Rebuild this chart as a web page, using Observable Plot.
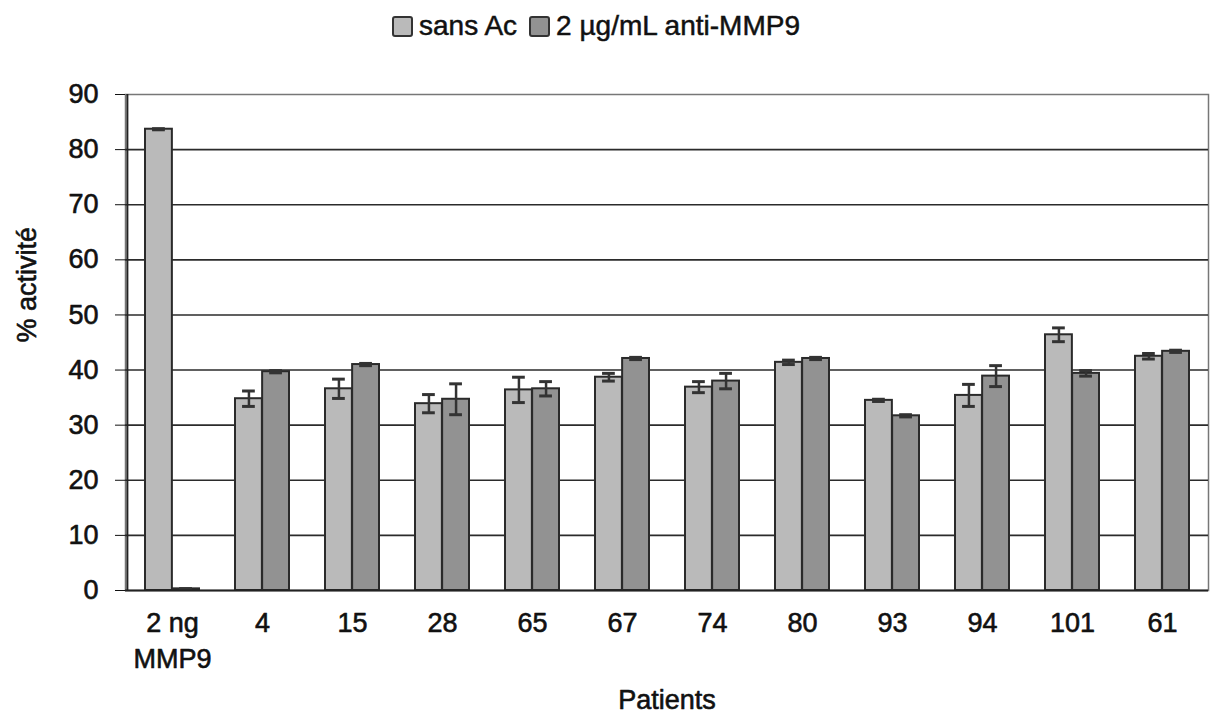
<!DOCTYPE html>
<html>
<head>
<meta charset="utf-8">
<script src="https://cdn.jsdelivr.net/npm/d3@7"></script>
<script src="https://cdn.jsdelivr.net/npm/@observablehq/plot@0.6"></script>
<style>
  body { margin: 0; background: #fff; font-family: "Liberation Sans", Arial, sans-serif; }
  #legend { height: 46px; box-sizing: border-box; padding-top: 6px; display: flex; justify-content: center; align-items: center; font-size: 28px; color: #111; -webkit-text-stroke: 0.5px #111; padding-right: 18px; }
  .item { display: flex; align-items: center; margin: 0 6px; }
  .sw { width: 17px; height: 17px; border: 2px solid #333; border-radius: 3px; margin-right: 6px; -webkit-text-stroke: 0; }
</style>
</head>
<body>
<div id="legend"></div>
<div id="chart"></div>
<script>
const patients = ["2 ng\nMMP9", "4", "15", "28", "65", "67", "74", "80", "93", "94", "101", "61"];
const seriesNames = ["sans Ac", "2 µg/mL anti-MMP9"];
const sansAc    = [83.7, 34.8, 36.6, 33.9, 36.4, 38.7, 36.9, 41.4, 34.5, 35.4, 46.4, 42.5];
const sansAcErr = [0.1, 1.4, 1.75, 1.65, 2.3, 0.7, 1.0, 0.4, 0.2, 2.0, 1.25, 0.5];
const antiMMP9    = [0.3, 39.7, 41.0, 34.7, 36.6, 42.1, 38.0, 42.1, 31.7, 38.9, 39.4, 43.4];
const antiMMP9Err = [0.0, 0.2, 0.2, 2.8, 1.3, 0.2, 1.4, 0.2, 0.2, 1.9, 0.5, 0.2];
const yTicks = [0, 10, 20, 30, 40, 50, 60, 70, 80, 90];
const gridTicks = [10, 20, 30, 40, 50, 60, 70, 80];
const xTitle = "Patients";
const yTitle = "% activité";
const colors = ["#bababa", "#929292"];

const rowsA = patients.map((p, i) => ({patient: p, value: sansAc[i], err: sansAcErr[i]}));
const rowsB = patients.map((p, i) => ({patient: p, value: antiMMP9[i], err: antiMMP9Err[i]}));

// legend
const legend = document.getElementById("legend");
seriesNames.forEach((name, i) => {
  const it = document.createElement("div");
  it.className = "item";
  it.innerHTML = `<span class="sw" style="background:${colors[i]}"></span><span>${name}</span>`;
  legend.appendChild(it);
});

const W = 1210, H = 671;
const mL = 125, mR = 2;
const bw = (W - mL - mR) / patients.length;
const half = bw / 2;
const outer = 18;
const cap = 13;
const barW = half - outer;
const aCenter = outer + barW / 2, bCenter = half + barW / 2;

const errMarks = (rows, center) => [
  Plot.ruleX(rows, {x: "patient", y1: d => d.value - d.err, y2: d => d.value + d.err, dx: center - half, stroke: "#333", strokeWidth: 2.5}),
  Plot.tickY(rows, {x: "patient", y: d => d.value + d.err, insetLeft: center - cap / 2, insetRight: bw - center - cap / 2, stroke: "#333", strokeWidth: 3}),
  Plot.tickY(rows, {x: "patient", y: d => d.value - d.err, insetLeft: center - cap / 2, insetRight: bw - center - cap / 2, stroke: "#333", strokeWidth: 3})
];

const textStyle = {fontSize: 27, textStroke: "#111", textStrokeWidth: 0.6};

const chart = Plot.plot({
  width: W,
  height: H,
  marginLeft: mL,
  marginRight: mR,
  marginTop: 48,
  marginBottom: 127,
  style: {fontFamily: "'Liberation Sans', Arial, sans-serif", fontSize: "27px", color: "#111", background: "#fff"},
  x: {domain: patients, padding: 0},
  y: {domain: [0, 90]},
  marks: [
    Plot.frame({stroke: "#777", strokeWidth: 1.5}),
    Plot.ruleY(gridTicks, {stroke: "#2b2b2b", strokeWidth: 1.6}),
    Plot.barY(rowsA, {x: "patient", y: "value", fill: colors[0], stroke: "#2a2a2a", strokeWidth: 2, insetLeft: outer, insetRight: half}),
    Plot.barY(rowsB, {x: "patient", y: "value", fill: colors[1], stroke: "#2a2a2a", strokeWidth: 2, insetLeft: half, insetRight: outer}),
    ...errMarks(rowsA, aCenter),
    ...errMarks(rowsB, bCenter),
    Plot.ruleY([0], {stroke: "#222", strokeWidth: 2}),
    Plot.ruleX([0], {x: () => patients[0], dx: -half, stroke: "#222", strokeWidth: 2}),
    Plot.axisY({ticks: yTicks, tickSize: 10, tickPadding: 17, tickFormat: d => String(d), label: null, ...textStyle}),
    Plot.axisX({tickSize: 0, tickPadding: 17, lineHeight: 1.3, label: null, ...textStyle}),
    Plot.text([xTitle], {frameAnchor: "bottom", dy: 110, lineAnchor: "middle", fontSize: 27, fill: "#111", stroke: "#111", strokeWidth: 0.6}),
    Plot.text([yTitle], {frameAnchor: "left", dx: -98, rotate: -90, lineAnchor: "middle", fontSize: 27, fill: "#111", stroke: "#111", strokeWidth: 0.6})
  ]
});
document.getElementById("chart").appendChild(chart);
</script>
</body>
</html>
